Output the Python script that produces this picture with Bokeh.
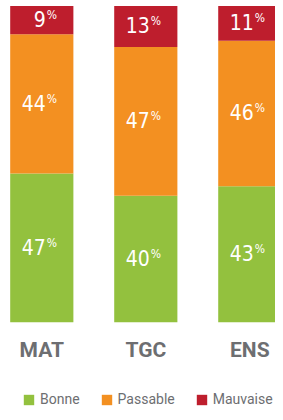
from bokeh.plotting import figure
from bokeh.models import ColumnDataSource, Range1d, Legend, LegendItem
from bokeh.core.properties import value
from bokeh.embed import file_html
from bokeh.resources import INLINE

categories = ["MAT", "TGC", "ENS"]
series = ["Bonne", "Passable", "Mauvaise"]
bonne = [47, 40, 43]
passable = [44, 47, 46]
mauvaise = [9, 13, 11]
colors = ["#93c13e", "#f39021", "#be1e2d"]

xs = list(range(len(categories)))
data = {"x": xs, "cat": categories, "Bonne": bonne, "Passable": passable, "Mauvaise": mauvaise}
src = ColumnDataSource(data)

W, H = 275, 412
p = figure(width=W, height=H, output_backend="svg", toolbar_location=None,
           x_range=Range1d(-0.397, 2.247), y_range=Range1d(-28.5, 101.7),
           min_border=0, border_fill_color="white", background_fill_color="white")
p.axis.visible = False
p.grid.visible = False
p.outline_line_color = None

rends = p.vbar_stack(series, x="x", width=0.6075, color=colors, line_color=None, source=src)

# segment labels
lx, ly, lt = [], [], []
bottoms = [0] * len(categories)
for vals in (bonne, passable, mauvaise):
    for i, v in enumerate(vals):
        lx.append(xs[i])
        ly.append(bottoms[i] + v / 2)
        lt.append(str(v))
        bottoms[i] += v
lsrc = ColumnDataSource(dict(x=lx, y=ly, t=lt, pct=["%"] * len(lt)))
num_font = value("DejaVu Sans Condensed")
p.text(x="x", y="y", text="t", source=lsrc, text_color="white", text_font=num_font,
       text_font_size="21px", text_align="right", text_baseline="middle",
       x_offset=4, y_offset=-1)
p.text(x="x", y="y", text="pct", source=lsrc, text_color="white", text_font=num_font,
       text_font_size="12px", text_align="left", text_baseline="middle",
       x_offset=5, y_offset=-5)

# category labels
csrc = ColumnDataSource(dict(x=xs, y=[-8.6] * len(xs), t=categories))
p.text(x="x", y="y", text="t", source=csrc, text_color="#6d6e71", text_font=value("Roboto"),
       text_font_size="21px", text_font_style="bold", text_align="center", text_baseline="middle")

legend = Legend(items=[LegendItem(label=s, renderers=[r]) for s, r in zip(series, rends)],
                orientation="horizontal", location=(22, 5), glyph_width=13, glyph_height=13,
                label_height=13, label_standoff=5, spacing=20, padding=0, margin=0,
                border_line_color=None, background_fill_alpha=0,
                label_text_font="Roboto", label_text_font_size="14px",
                label_text_color="#6d6e71", label_text_baseline="middle")
p.add_layout(legend)

open("out.html", "w").write(file_html(p, INLINE))
